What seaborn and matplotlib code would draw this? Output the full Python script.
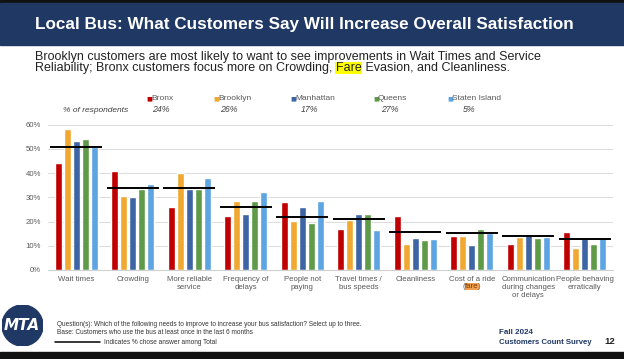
import numpy as np
import pandas as pd
import seaborn as sns
import matplotlib.pyplot as plt
from matplotlib.patches import Rectangle, Circle
from matplotlib.text import Annotation

categories = ["Wait times", "Crowding", "More reliable\nservice", "Frequency of\ndelays",
              "People not\npaying", "Travel times /\nbus speeds", "Cleanliness",
              "Cost of a ride", "Communication\nduring changes\nor delays",
              "People behaving\nerratically"]
boroughs = ["Bronx", "Brooklyn", "Manhattan", "Queens", "Staten Island"]
share = ["24%", "26%", "17%", "27%", "5%"]
colors = ["#C00000", "#F0A830", "#3D64A4", "#5E9A47", "#5DA5E2"]

bronx = [44.0, 40.8, 26.1, 22.1, 27.9, 17.0, 22.3, 14.0, 10.8, 15.8]
brooklyn = [58.2, 30.7, 40.0, 28.3, 20.3, 20.7, 10.8, 14.1, 13.8, 9.1]
manhattan = [53.1, 30.3, 33.2, 23.2, 26.1, 23.0, 13.1, 10.4, 14.9, 13.0]
queens = [53.9, 33.3, 33.6, 28.6, 19.4, 23.0, 12.3, 17.0, 13.0, 10.6]
staten = [50.6, 35.4, 38.0, 32.1, 28.6, 16.6, 12.6, 15.2, 13.8, 13.3]
total = [50.7, 33.9, 33.7, 26.1, 22.0, 21.0, 15.6, 15.3, 14.1, 12.9]

rows = []
for b, vals in zip(boroughs, [bronx, brooklyn, manhattan, queens, staten]):
    for c, v in zip(categories, vals):
        rows.append({"category": c, "borough": b, "value": v})
df = pd.DataFrame(rows)

sns.set_style("white")
plt.rcParams['font.family'] = ['Liberation Sans', 'DejaVu Sans']

W, H = 624, 359
fig = plt.figure(figsize=(W / 100, H / 100), dpi=100)
fig.patch.set_facecolor("white")

def fy(px):
    return 1 - px / H

# header / footer bands
fig.patches.append(Rectangle((0, fy(3)), 1, 3 / H, transform=fig.transFigure, color="#111111", zorder=0))
fig.patches.append(Rectangle((0, fy(45)), 1, 42 / H, transform=fig.transFigure, color="#1F3864", zorder=0))
fig.patches.append(Rectangle((0, 0), 1, 7 / H, transform=fig.transFigure, color="#111111", zorder=0))

fig.text(35 / W, fy(24), "Local Bus: What Customers Say Will Increase Overall Satisfaction",
         color="white", fontsize=12.3, fontweight="bold", va="center", ha="left")

# subtitle, with "Fare" highlighted
sub_fs = 9
fig.text(35 / W, fy(57), "Brooklyn customers are most likely to want to see improvements in Wait Times and Service",
         color="#222222", fontsize=sub_fs, va="center", ha="left")
t1 = fig.text(35 / W, fy(68), "Reliability; Bronx customers focus more on Crowding,",
              color="#222222", fontsize=sub_fs, va="center", ha="left")
t2 = Annotation("Fare", xy=(1, 0.5), xycoords=t1, xytext=(2.5, 0), textcoords="offset points",
                va="center", ha="left", fontsize=sub_fs, color="#222222",
                bbox=dict(facecolor="#FFFF00", edgecolor="none", pad=0.3))
fig.add_artist(t2)
t3 = Annotation(" Evasion, and Cleanliness.", xy=(1, 0.5), xycoords=t2, va="center", ha="left",
                fontsize=sub_fs, color="#222222")
fig.add_artist(t3)

# main chart
ax = fig.add_axes([48 / W, (H - 270) / H, 565 / W, 145.5 / H])
sns.barplot(data=df, x="category", y="value", hue="borough", palette=colors,
            width=0.8, gap=0.2, ax=ax, legend=False, saturation=1)
for i, v in enumerate(total):
    ax.hlines(v, i - 0.46, i + 0.46, color="black", lw=1.4, zorder=5)

ax.set_ylim(0, 60)
ax.set_xlim(-0.5, len(categories) - 0.5)
ax.set_yticks(range(0, 61, 10))
ax.set_yticklabels([f"{t}%" for t in range(0, 61, 10)])
ax.yaxis.grid(True, color="#DADADA", lw=0.7)
ax.set_axisbelow(True)
for s in ["top", "right", "left"]:
    ax.spines[s].set_visible(False)
ax.spines["bottom"].set_color("#D0D0D0")
ax.spines["bottom"].set_linewidth(0.8)
ax.tick_params(axis="both", length=0, labelsize=5.6, colors="#595959", pad=4)
ax.tick_params(axis="y", pad=5)
ax.set_xlabel("")
ax.set_ylabel("")

# "(fare)" under "Cost of a ride"
fare = ax.annotate("fare", xy=(7, 0), xycoords=ax.get_xaxis_transform(), xytext=(0, -12),
                   textcoords="offset points", ha="center", va="center", fontsize=5.6,
                   color="#7A3A00", bbox=dict(facecolor="#F0A050", edgecolor="none", pad=0.2),
                   annotation_clip=False)
ax.annotate("(", xy=(0, 0.5), xycoords=fare, ha="right", va="center", fontsize=5.6,
            color="#595959", annotation_clip=False)
ax.annotate(")", xy=(1, 0.5), xycoords=fare, ha="left", va="center", fontsize=5.6,
            color="#595959", annotation_clip=False)

# legend row
leg_x = [146, 213, 290, 373, 447]
pct_x = [161, 229, 310, 390, 469]
for b, c, lx, p, px in zip(boroughs, colors, leg_x, share, pct_x):
    fig.text(lx / W, fy(99), "\u25A0", color=c, fontsize=4.5, va="center", ha="left",
             family="DejaVu Sans")
    fig.text((lx + 5) / W, fy(99), b, color="#595959", fontsize=6, va="center", ha="left")
    fig.text(px / W, fy(110), p, color="#404040", fontsize=6.3, style="italic", va="center", ha="center")
fig.text(96 / W, fy(110), "% of respondents", color="#404040", fontsize=6, style="italic",
         va="center", ha="center")

# logo
lax = fig.add_axes([2 / W, (H - 346) / H, 41 / W, 41 / H])
lax.set_xlim(-1, 1)
lax.set_ylim(-1, 1)
lax.set_aspect("equal")
lax.axis("off")
lax.add_patch(Circle((0, 0), 1, color="#1F3864"))
lax.text(-0.02, -0.02, "MTA", color="white", fontsize=11, fontweight="bold", ha="center", va="center",
         family="Liberation Sans Narrow", style="italic")

# footer
foot_fs = 4.7
fig.text(57 / W, fy(325), "Question(s): Which of the following needs to improve to increase your bus satisfaction? Select up to three.",
         color="#333333", fontsize=foot_fs, va="center", ha="left")
fig.text(57 / W, fy(333), "Base: Customers who use the bus at least once in the last 6 months",
         color="#333333", fontsize=foot_fs, va="center", ha="left")
fig.lines.append(plt.Line2D([55 / W, 100 / W], [fy(342), fy(342)], transform=fig.transFigure,
                            color="black", lw=1.1))
fig.text(104 / W, fy(342), "Indicates % chose answer among Total",
         color="#333333", fontsize=foot_fs, va="center", ha="left")

fig.text(499 / W, fy(332), "Fall 2024", color="#1F3864", fontsize=5.8, fontweight="bold",
         va="center", ha="left")
fig.text(499 / W, fy(342), "Customers Count Survey", color="#1F3864", fontsize=5.6, fontweight="bold",
         va="center", ha="left")
fig.text(604 / W, fy(342), "12", color="#222222", fontsize=6.8, fontweight="bold",
         va="center", ha="left")

fig.savefig("out.png", dpi=100)
